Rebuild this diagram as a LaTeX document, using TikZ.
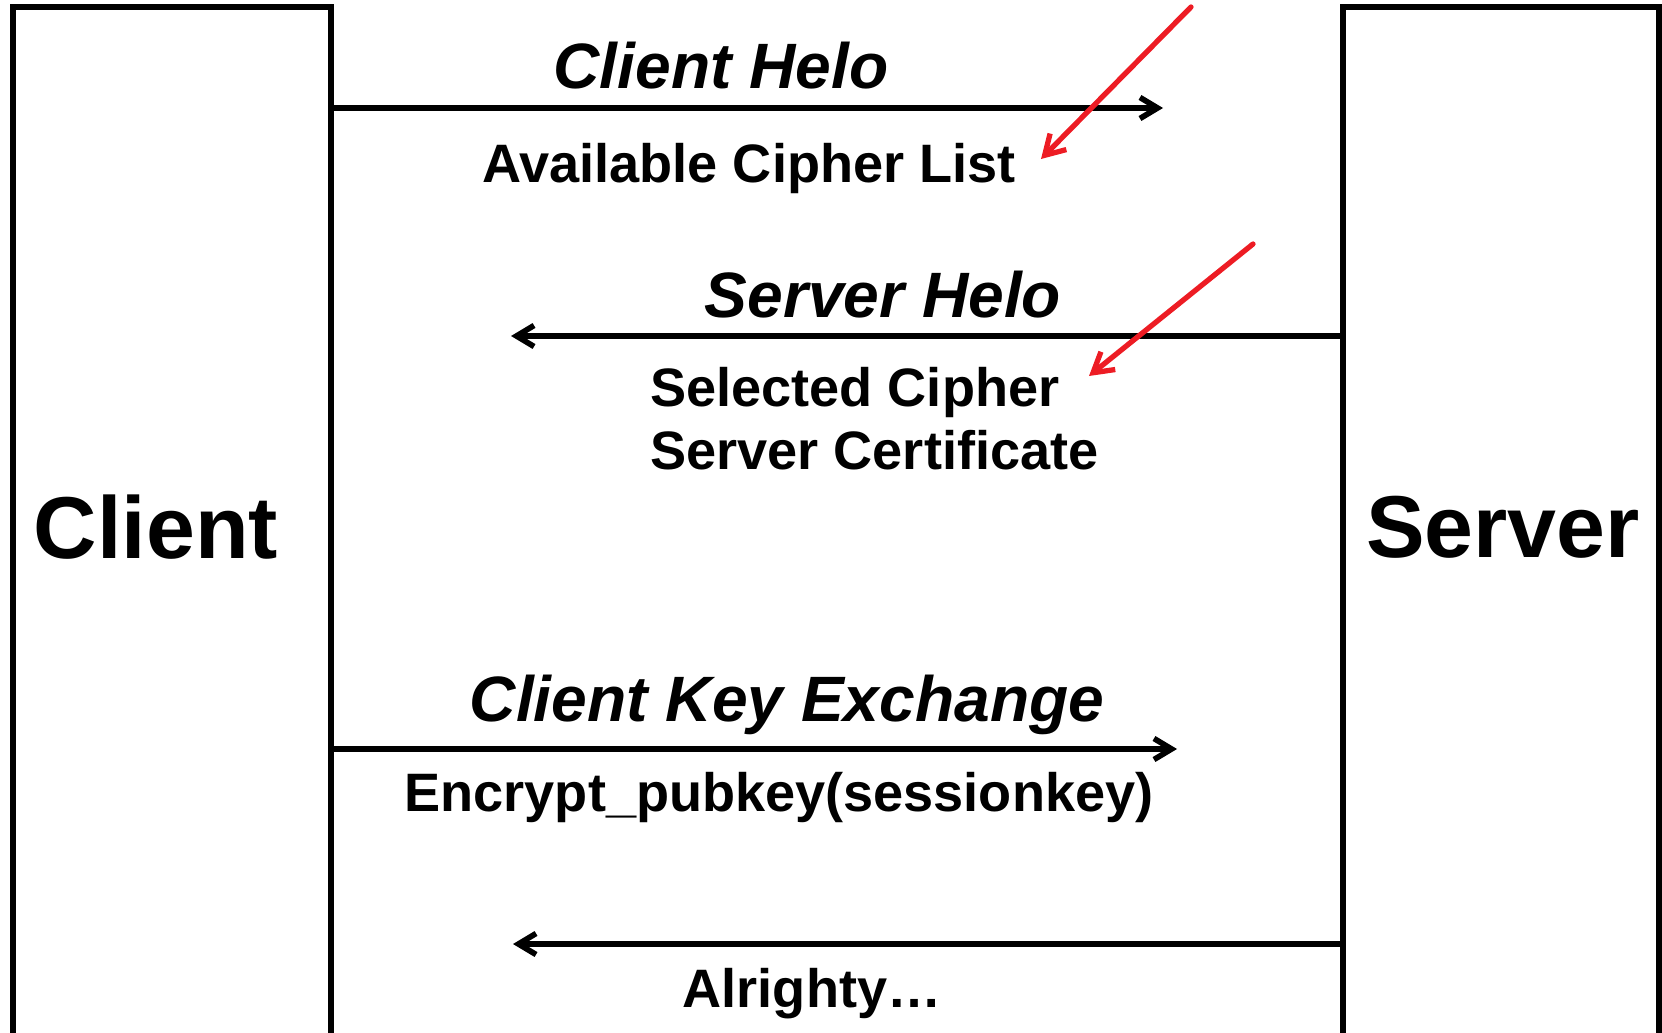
\documentclass[tikz,border=0pt]{standalone}
\usepackage{fontspec}
\setmainfont{Liberation Sans}
\usetikzlibrary{arrows.meta}
\definecolor{alertred}{RGB}{237,28,36}

\begin{document}
\begin{tikzpicture}[x=0.02cm,y=-0.02cm,
  party/.style={draw,line width=3.2pt,inner sep=0pt,outer sep=0pt,minimum height=20.8cm},
  msg/.style={line width=3.2pt,line cap=round,-{Straight Barb[length=10pt,width=12pt]}},
  pointer/.style={alertred,line width=3pt,line cap=round,-{Straight Barb[length=11pt,width=13pt]}},
  msgname/.style={font=\fontsize{36.5}{44}\selectfont\bfseries\itshape,inner sep=0pt},
  msgdata/.style={font=\fontsize{30.8}{36}\selectfont\bfseries,inner sep=0pt},
  who/.style={font=\fontsize{50}{60}\selectfont\bfseries,inner sep=0pt}]
\useasboundingbox (0,0) rectangle (1662,1033);
\clip (0,0) rectangle (1662,1033);

% the two parties
\draw (172,527) node[party,minimum width=6.36cm](client) {};
\draw (1501,527) node[party,minimum width=6.32cm](server) {};
\draw (156,527) node[who](clientname) {Client};
\draw (1503,527) node[who](servername) {Server};

% handshake messages
\coordinate (hellotip) at (1163,108);
\coordinate (srvhellotip) at (511,336);
\coordinate (keytip) at (1177,749);
\coordinate (oktip) at (513,944);
\draw[msg] (client.east |- hellotip) -- (hellotip);
\draw[msg] (server.west |- srvhellotip) -- (srvhellotip);
\draw[msg] (client.east |- keytip) -- (keytip);
\draw[msg] (server.west |- oktip) -- (oktip);

\draw (721,66) node[msgname](hello) {Client Helo};
\draw (749,169) node[msgdata](cipherlist) {Available Cipher List};
\draw (883,295) node[msgname](srvhello) {Server Helo};
\draw (650,419) node[msgdata,anchor=west,align=left](selected) {Selected Cipher\\Server Certificate};
\draw (787,705) node[msgname](keyex) {Client Key Exchange};
\draw (779,798) node[msgdata](encrypt) {Encrypt\_pubkey(sessionkey)};
\draw (812,994) node[msgdata](alrighty) {Alrighty…};

% red pointers
\coordinate (listfrom) at (1191,7);
\coordinate (listto) at (1041,159);
\coordinate (selfrom) at (1253,244);
\coordinate (selto) at (1089,376);
\draw[pointer] (listfrom) -- (listto);
\draw[pointer] (selfrom) -- (selto);
\end{tikzpicture}
\end{document}
